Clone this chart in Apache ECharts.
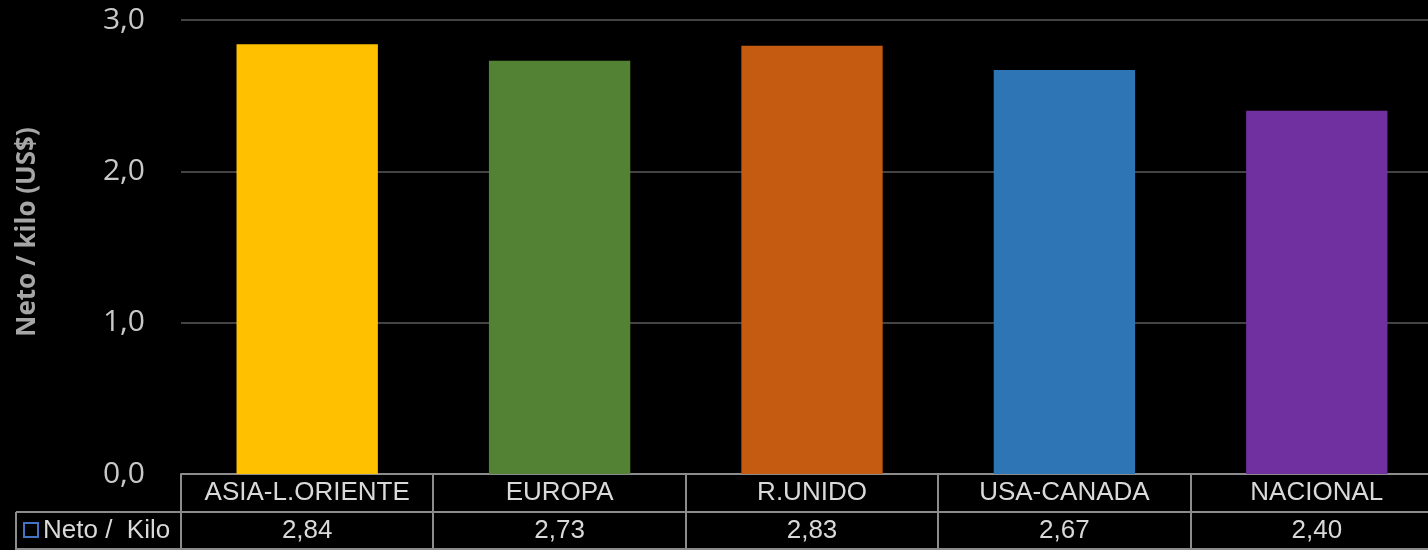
<!DOCTYPE html>
<html>
<head>
<meta charset="utf-8">
<script src="https://cdn.jsdelivr.net/npm/echarts@6/dist/echarts.min.js"></script>
<style>
html,body{margin:0;padding:0;background:#000;}
#c{width:1428px;height:550px;}
</style>
</head>
<body>
<div id="c"></div>
<script>
const categories = ['ASIA-L.ORIENTE', 'EUROPA', 'R.UNIDO', 'USA-CANADA', 'NACIONAL'];
const values = [2.84, 2.73, 2.83, 2.67, 2.40];
const barColors = ['#FFC000', '#548235', '#C55A11', '#2E75B6', '#7030A0'];
const seriesName = 'Neto /  Kilo';
const yTitle = 'Neto / kilo (US$)';

const fmt = v => v.toFixed(2).replace('.', ',');
const GL = 181, GT = 20, GB = 474, GW = 1262;
const chart = echarts.init(document.getElementById('c'));
const tableColor = '#8c8c8c';

chart.setOption({
  backgroundColor: '#000',
  animation: false,
  grid: { left: GL, top: GT, width: GW, height: GB - GT, outerBoundsMode: 'none', containLabel: false },
  xAxis: {
    type: 'category',
    data: categories,
    axisLine: { show: true, lineStyle: { color: tableColor, width: 2 } },
    axisTick: { show: false },
    axisLabel: {
      interval: 0,
      margin: 0,
      verticalAlign: 'top',
      hideOverlap: false,
      formatter: (name, idx) => '{n|' + name + '}\n{v|' + fmt(values[idx]) + '}',
      rich: {
        n: { fontFamily: 'Liberation Sans', fontSize: 26, color: '#d9d9d9', lineHeight: 38, height: 38, verticalAlign: 'middle' },
        v: { fontFamily: 'Liberation Sans', fontSize: 26, color: '#d9d9d9', lineHeight: 38, height: 38, verticalAlign: 'middle' }
      }
    }
  },
  yAxis: {
    type: 'value',
    min: 0, max: 3, interval: 1,
    name: yTitle,
    nameLocation: 'middle',
    nameRotate: 90,
    nameGap: 140,
    nameTextStyle: { fontFamily: 'Open Sans', fontWeight: 'bold', fontSize: 26, color: '#a6a6a6', padding: [0, 0, 0, 30] },
    axisLine: { show: false },
    axisTick: { show: false },
    axisLabel: { formatter: v => v.toFixed(1).replace('.', ','), fontFamily: 'Open Sans', fontSize: 30, color: '#c8c8c8', margin: 36 },
    splitLine: { lineStyle: { color: '#5a5a5a', width: 1.5 } }
  },
  series: [{
    type: 'bar',
    name: seriesName,
    barWidth: '56%',
    data: values.map((v, i) => ({ value: v, itemStyle: { color: barColors[i] } }))
  }]
});

// table decoration (cell borders + legend key)
function drawTable() {
  const els = [];
  const yTop = GB, yMid = GB + 38, yBot = GB + 76;
  const right = GL + GW;
  const ln = (x1, y1, x2, y2) => els.push({ type: 'line', shape: { x1, y1, x2, y2 }, style: { stroke: tableColor, lineWidth: 2 }, silent: true });
  ln(GL, yMid, right, yMid);
  ln(16, yMid, GL, yMid);
  ln(GL, yTop, GL, yBot);
  ln(16, yMid, 16, yBot);
  ln(16, yBot - 1, right, yBot - 1);
  for (let i = 1; i < categories.length; i++) {
    const a = chart.convertToPixel({ xAxisIndex: 0 }, categories[i - 1]);
    const b = chart.convertToPixel({ xAxisIndex: 0 }, categories[i]);
    const x = Math.round((a + b) / 2);
    ln(x, yTop, x, yBot);
  }
  els.push({ type: 'rect', shape: { x: 24, y: yMid + 11, width: 14, height: 14 }, style: { fill: 'none', stroke: '#4472C4', lineWidth: 2 }, silent: true });
  els.push({ type: 'text', x: 43, y: yMid + 19, style: { text: seriesName, font: '26px "Liberation Sans"', fill: '#d9d9d9', verticalAlign: 'middle', align: 'left' }, silent: true });
  chart.setOption({ graphic: els });
}
drawTable();
</script>
</body>
</html>
